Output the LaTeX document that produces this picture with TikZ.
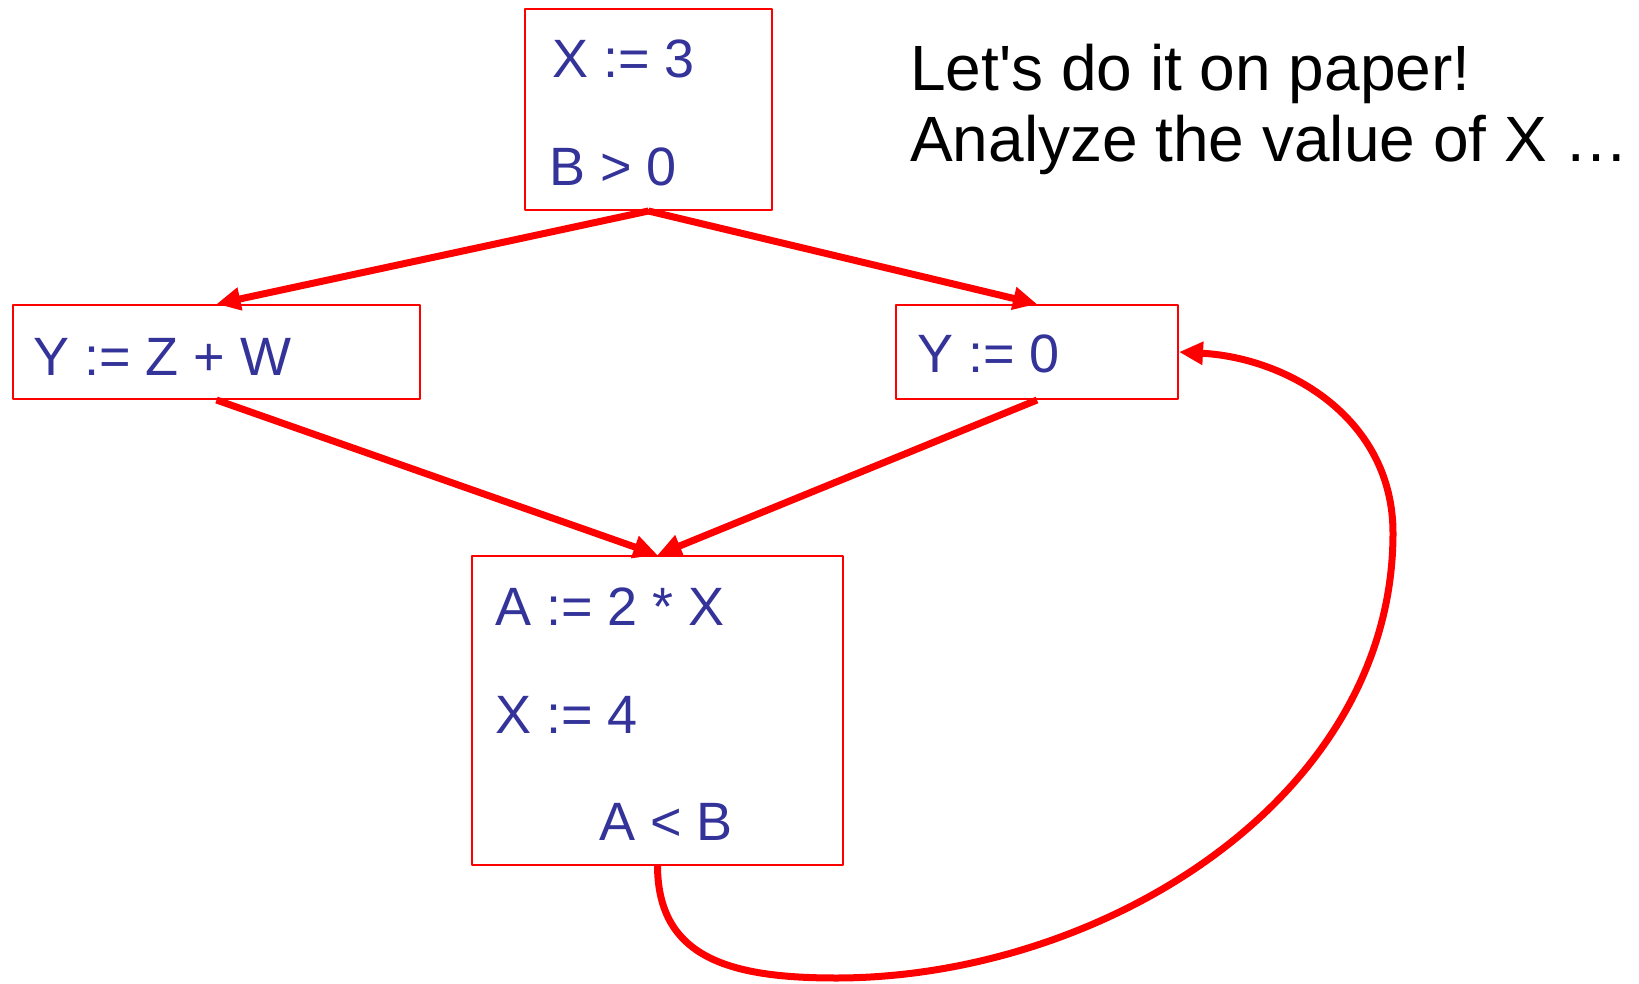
\documentclass[tikz,border=0pt]{standalone}
\usepackage{fontspec}
\setmainfont{Liberation Sans}
\usetikzlibrary{arrows.meta}
\definecolor{cfRed}{HTML}{FF0000}
\definecolor{cfBlue}{HTML}{333399}
\tikzset{
 cfg/.style={x=1pt,y=-1pt,line cap=round,line join=round},
 block/.style={rectangle,draw=cfRed,line width=2pt,inner sep=0pt},
 stmt/.style={anchor=base west,inner sep=0pt,text=cfBlue,font=\fontsize{54}{60}\selectfont},
 flow/.style={draw=cfRed,line width=7pt,line cap=butt,-{Triangle[length=24pt,width=22pt]}},
 note/.style={anchor=base west,inner sep=0pt,font=\fontsize{64}{71}\selectfont}
}
\begin{document}
\begin{tikzpicture}[cfg]
 \useasboundingbox (0,0) rectangle (1639,984);
 % basic blocks
 \node[block,minimum width=247pt,minimum height=201pt] (entry) at (648.5,109.5) {};
 \node[block,minimum width=407pt,minimum height=94pt] (left) at (216.5,352) {};
 \node[block,minimum width=282pt,minimum height=94pt] (right) at (1037,352) {};
 \node[block,minimum width=371pt,minimum height=309pt] (body) at (657.5,710.5) {};
 % statements
 \node[stmt] (sx) at (552,78) {X := 3};
 \node[stmt] (sb) at (549,186) {B > 0};
 \node[stmt] (sy) at (33,375) {Y := Z + W};
 \node[stmt] (sz) at (917,373) {Y := 0};
 \node[stmt] (sa) at (495,625) {A := 2 * X};
 \node[stmt] (sx4) at (495,733) {X := 4};
 \node[stmt] (sc) at (599,840) {A < B};
 % edges
 \draw[flow] (entry.south) -- (left.north);
 \draw[flow] (entry.south) -- (right.north);
 \draw[flow] (left.south) -- (body.north);
 \draw[flow] (right.south) -- (body.north);
 \coordinate (low) at (836,978);
 \coordinate (far) at (1393,533);
 \draw[flow] (body.south) .. controls (658,958) and (730,978) .. (low)
   .. controls (1100,978) and (1393,800) .. (far)
   .. controls (1393,420) and (1290,358) .. (right.east);
 \node[note] (n1) at (910,91) {Let\textquotesingle s do it on paper!};
 \node[note] (n2) at (910,162) {Analyze the value of X …};
\end{tikzpicture}
\end{document}
